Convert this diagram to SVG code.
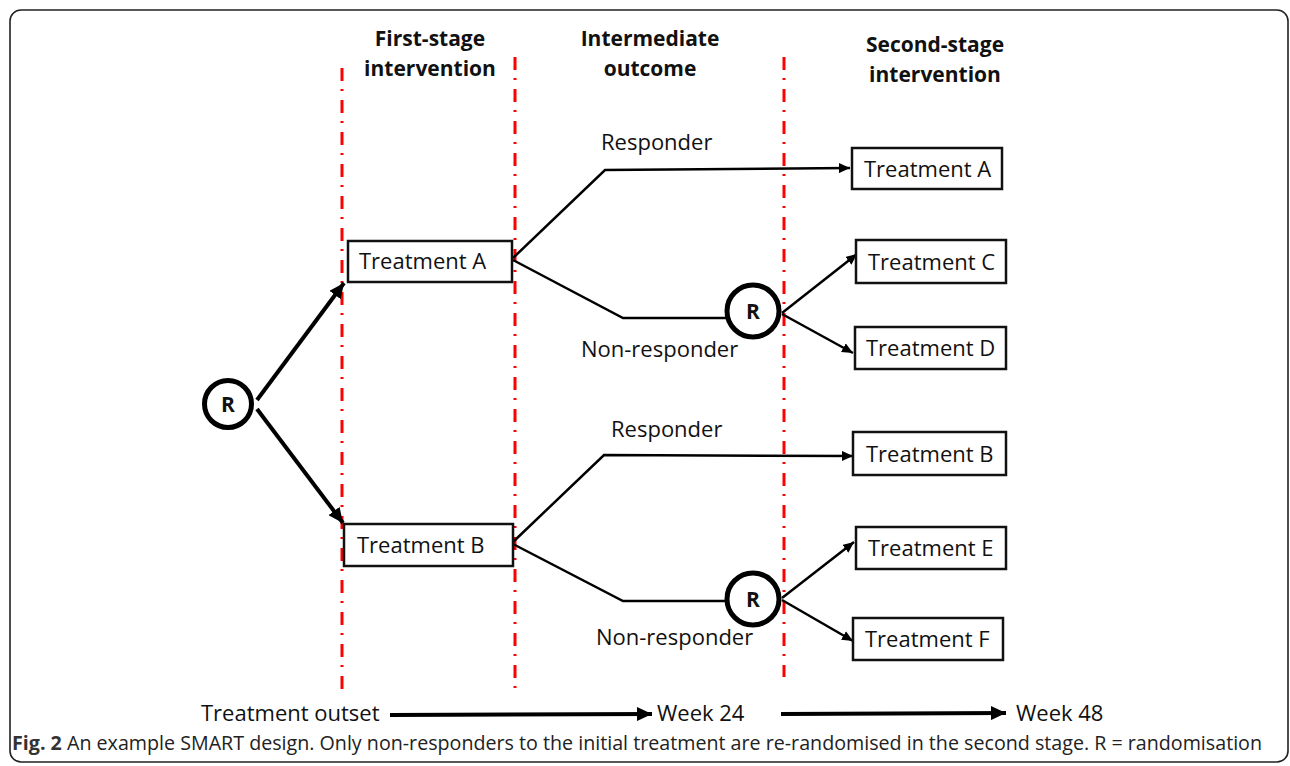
<svg xmlns="http://www.w3.org/2000/svg" width="1290" height="766" viewBox="0 0 1290 766">
<defs>
<style>
.t{font-family:"Open Sans","Liberation Sans",sans-serif;font-size:22px;fill:#111}
.h{font-family:"Open Sans","Liberation Sans",sans-serif;font-size:21px;font-weight:bold;fill:#111;text-anchor:middle}
.r{font-family:"Open Sans","Liberation Sans",sans-serif;font-size:21px;font-weight:bold;fill:#111;text-anchor:middle}
.box{fill:#fff;stroke:#111;stroke-width:2.5}
.circ{fill:#fff;stroke:#000;stroke-width:5}
.red{stroke:#ff0000;stroke-width:3;stroke-dasharray:13 8 2 9;fill:none}
.c{fill:none;stroke:#000;stroke-width:2.5}
.ct{fill:none;stroke:#000;stroke-width:4}
.cap{font-family:"Open Sans","Liberation Sans",sans-serif;font-size:20px;fill:#222}
</style>
<marker id="ah" markerUnits="userSpaceOnUse" markerWidth="12" markerHeight="10" refX="11" refY="5" orient="auto"><path d="M0,0 L11,5 L0,10 Z" fill="#000"/></marker>
<marker id="ahb" markerUnits="userSpaceOnUse" markerWidth="16" markerHeight="14" refX="15" refY="7" orient="auto"><path d="M0,0 L15,7 L0,14 Z" fill="#000"/></marker>
</defs>
<rect x="0" y="0" width="1290" height="766" fill="#fff"/>
<rect x="10" y="10" width="1278" height="752" rx="11" fill="none" stroke="#222" stroke-width="1.6"/>

<g id="stage-lines">
<line class="red" x1="342" y1="68" x2="342" y2="690"/>
<line class="red" x1="515" y1="57" x2="515" y2="688"/>
<line class="red" x1="784" y1="57" x2="784" y2="677"/>
</g>

<g id="headers">
<text class="h" x="430" y="46">First-stage</text>
<text class="h" x="430" y="76">intervention</text>
<text class="h" x="650" y="46">Intermediate</text>
<text class="h" x="650" y="76">outcome</text>
<text class="h" x="935" y="52">Second-stage</text>
<text class="h" x="935" y="82">intervention</text>
</g>

<g id="connectors">
<line class="ct" x1="257" y1="400" x2="344" y2="283" marker-end="url(#ahb)"/>
<line class="ct" x1="257" y1="409" x2="343" y2="523" marker-end="url(#ahb)"/>
<polyline class="c" points="513,258 605,170 850,168" marker-end="url(#ah)"/>
<polyline class="c" points="513,260 623,318 727,318"/>
<line class="c" x1="782" y1="313" x2="857" y2="254" marker-end="url(#ah)"/>
<line class="c" x1="782" y1="314" x2="853" y2="353" marker-end="url(#ah)"/>
<polyline class="c" points="513,542 604,455 853,456" marker-end="url(#ah)"/>
<polyline class="c" points="513,544 623,601 726,601"/>
<line class="c" x1="782" y1="598" x2="854" y2="542" marker-end="url(#ah)"/>
<line class="c" x1="782" y1="600" x2="853" y2="641" marker-end="url(#ah)"/>
<line class="ct" x1="390" y1="715" x2="652" y2="714" marker-end="url(#ahb)"/>
<line class="ct" x1="781" y1="714" x2="1006" y2="713" marker-end="url(#ahb)"/>
</g>

<g id="labels">
<text class="t" x="601" y="150">Responder</text>
<text class="t" x="581" y="357">Non-responder</text>
<text class="t" x="611" y="437">Responder</text>
<text class="t" x="596" y="645">Non-responder</text>
</g>

<g id="R0"><circle class="circ" cx="228" cy="404" r="23.5"/><text class="r" x="228" y="412">R</text></g>
<g id="R1"><circle class="circ" cx="753" cy="311" r="26"/><text class="r" x="753" y="319">R</text></g>
<g id="R2"><circle class="circ" cx="753" cy="599" r="26"/><text class="r" x="753" y="607">R</text></g>

<g id="treatmentA1"><rect class="box" x="348" y="241" width="164" height="41"/><text class="t" x="359" y="269">Treatment A</text></g>
<g id="treatmentB1"><rect class="box" x="344" y="524" width="169" height="42"/><text class="t" x="357" y="553">Treatment B</text></g>
<g id="treatmentA2"><rect class="box" x="852" y="148" width="150" height="41"/><text class="t" x="864" y="177">Treatment A</text></g>
<g id="treatmentC"><rect class="box" x="856" y="240" width="150" height="43"/><text class="t" x="868" y="270">Treatment C</text></g>
<g id="treatmentD"><rect class="box" x="855" y="327" width="151" height="42"/><text class="t" x="866" y="356">Treatment D</text></g>
<g id="treatmentB2"><rect class="box" x="853" y="432" width="153" height="43"/><text class="t" x="866" y="462">Treatment B</text></g>
<g id="treatmentE"><rect class="box" x="856" y="527" width="150" height="42"/><text class="t" x="868" y="556">Treatment E</text></g>
<g id="treatmentF"><rect class="box" x="853" y="618" width="150" height="42"/><text class="t" x="865" y="647">Treatment F</text></g>

<g id="timeline">
<text class="t" x="201" y="721">Treatment outset</text>
<text class="t" x="657" y="721">Week 24</text>
<text class="t" x="1016" y="721">Week 48</text>
</g>

<text class="cap" x="12" y="750" textLength="1250" lengthAdjust="spacingAndGlyphs"><tspan font-weight="bold" fill="#333">Fig. 2</tspan> An example SMART design. Only non-responders to the initial treatment are re-randomised in the second stage. R = randomisation</text>
</svg>
